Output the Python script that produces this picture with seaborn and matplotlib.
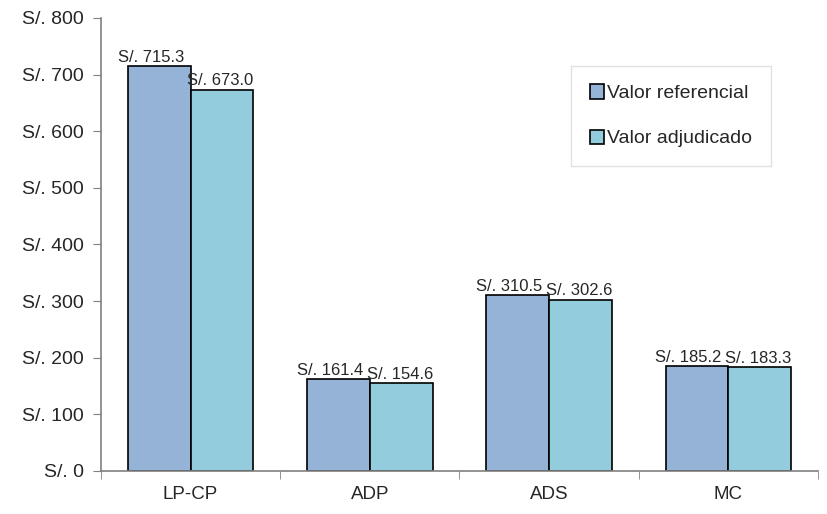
import pandas as pd
import matplotlib.pyplot as plt
import seaborn as sns
from matplotlib.ticker import FixedLocator, FuncFormatter

categorias = ["LP-CP", "ADP", "ADS", "MC"]
valor_referencial = [715.3, 161.4, 310.5, 185.2]
valor_adjudicado = [673.0, 154.6, 302.6, 183.3]
series = ["Valor referencial", "Valor adjudicado"]
colores = ["#95B3D7", "#93CDDD"]

df = pd.DataFrame({
    "cat": categorias * 2,
    "serie": [series[0]] * 4 + [series[1]] * 4,
    "valor": valor_referencial + valor_adjudicado,
})

sns.set_style("white")
plt.rcParams["font.family"] = ["Liberation Sans", "DejaVu Sans"]

fig = plt.figure(figsize=(8.27, 5.14), dpi=100)
ax = fig.add_axes([0.122, 0.084, 0.867, 0.881])

sns.barplot(data=df, x="cat", y="valor", hue="serie", palette=colores,
            edgecolor="black", linewidth=1.2, width=0.70, ax=ax, saturation=1)

# etiquetas sobre las barras (un poco corridas a la izquierda como en Excel)
for cont, dx in zip(ax.containers, [-6, -1]):
    etiquetas = ax.bar_label(cont, labels=[f"S/. {v:.1f}" for v in cont.datavalues],
                             fontsize=12, padding=1)
    for t in etiquetas:
        t.xyann = (dx, 1)

ax.set_ylim(0, 800)
ax.set_xlim(-0.5, 3.5)
ax.set_yticks(range(0, 801, 100))
ax.yaxis.set_major_formatter(FuncFormatter(lambda v, p: f"S/. {int(v)}"))
ax.tick_params(axis="y", labelsize=14, length=6, color="#808080", left=True, pad=6)
ax.tick_params(axis="x", which="major", length=0, labelsize=13.5, pad=11)
ax.xaxis.set_minor_locator(FixedLocator([-0.5, 0.5, 1.5, 2.5, 3.5]))
ax.tick_params(axis="x", which="minor", length=6, color="#808080", bottom=True)
ax.set_xlabel("")
ax.set_ylabel("")
for s in ["top", "right"]:
    ax.spines[s].set_visible(False)
for s in ["left", "bottom"]:
    ax.spines[s].set_color("#808080")
    ax.spines[s].set_linewidth(1.2)

leg = ax.legend(loc="upper right", bbox_to_anchor=(0.934, 0.894), fontsize=14,
                frameon=True, fancybox=False, edgecolor="#D9D9D9",
                handlelength=0.75, handleheight=0.75, handletextpad=0.15,
                labelspacing=1.4, borderpad=0.95, borderaxespad=0)
for h in leg.legend_handles:
    h.set_edgecolor("black")
    h.set_linewidth(1.2)

fig.savefig("out.png", dpi=100)
